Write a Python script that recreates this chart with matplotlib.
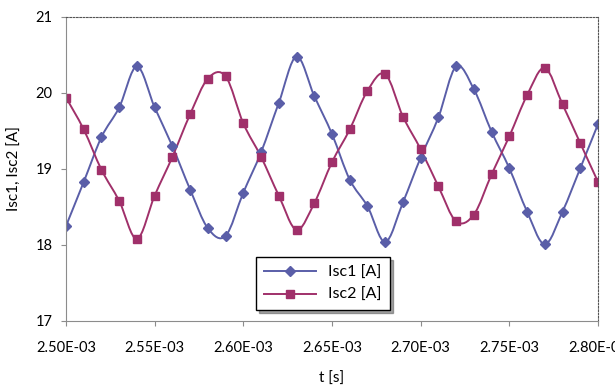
import numpy as np
import matplotlib
matplotlib.use("Agg")
import matplotlib.pyplot as plt
from matplotlib.path import Path
from matplotlib.patches import PathPatch
from matplotlib.lines import Line2D
from matplotlib.ticker import FuncFormatter

# time axis, 1e-5 s steps
t = np.arange(31) * 1e-5 + 2.50e-3

isc1 = [18.25, 18.83, 19.42, 19.81, 20.35, 19.81, 19.30, 18.73, 18.22, 18.12,
        18.69, 19.22, 19.87, 20.48, 19.96, 19.46, 18.86, 18.51, 18.04, 18.56,
        19.15, 19.68, 20.35, 20.05, 19.49, 19.01, 18.44, 18.01, 18.44, 19.01,
        19.59]
isc2 = [19.94, 19.52, 18.99, 18.58, 18.08, 18.65, 19.16, 19.72, 20.19, 20.22,
        19.60, 19.16, 18.65, 18.20, 18.55, 19.09, 19.52, 20.03, 20.25, 19.69,
        19.26, 18.77, 18.31, 18.40, 18.93, 19.43, 19.97, 20.33, 19.85, 19.34,
        18.83]


def smooth_path(x, y):
    # excel-like smoothed line: bezier segments through the points
    p = np.column_stack([x, y])
    n = len(p)
    verts = [p[0]]
    codes = [Path.MOVETO]
    for i in range(n - 1):
        a = p[max(i - 1, 0)]
        b = p[i]
        c = p[i + 1]
        d = p[min(i + 2, n - 1)]
        verts += [b + (c - a) / 6, c - (d - b) / 6, c]
        codes += [Path.CURVE4] * 3
    return Path(verts, codes)


plt.rcParams['font.family'] = ['Lato', 'DejaVu Sans']

fig = plt.figure(figsize=(6.15, 3.89), dpi=100)
W, H = 615, 389
ax = fig.add_axes([66/W, 1-321/H, (598-66)/W, (321-17)/H])

c1 = '#5A5EA8'
c2 = '#A0306A'
for y, c, m, ms in [(isc1, c1, 'D', 5.5), (isc2, c2, 's', 6)]:
    ax.add_patch(PathPatch(smooth_path(t, y), fill=False, edgecolor=c, lw=1.4))
    ax.plot(t, y, ls='none', color=c, marker=m, ms=ms)

ax.set_xlim(2.50e-3, 2.80e-3)
ax.set_ylim(17, 21)
ax.set_xticks(np.arange(7) * 5e-5 + 2.50e-3)
ax.set_yticks([17, 18, 19, 20, 21])
ax.xaxis.set_major_formatter(FuncFormatter(lambda v, p: '%.2E' % v))

for s in ['left', 'bottom']:
    ax.spines[s].set_color('#8c8c8c')
for s in ['top', 'right']:
    ax.spines[s].set_color('#555555')
    ax.spines[s].set_linestyle((0, (1.5, 1.5)))

ax.tick_params(direction='out', length=3.5, color='#8c8c8c', labelsize=10.5)
ax.tick_params(axis='x', pad=11)
ax.tick_params(axis='y', pad=6)
ax.set_xlabel('t [s]', fontsize=11, labelpad=12)
ax.set_ylabel('Isc1, Isc2 [A]', fontsize=11, labelpad=10)

handles = [Line2D([], [], color=c1, lw=1.4, marker='D', ms=5.5),
           Line2D([], [], color=c2, lw=1.4, marker='s', ms=6)]
leg = ax.legend(handles, ['Isc1 [A]', 'Isc2 [A]'], loc='lower left',
                bbox_to_anchor=(0.358, 0.035), fancybox=False,
                shadow=True, edgecolor='black', fontsize=11.5, handlelength=3.2,
                borderpad=0.5, labelspacing=0.55, borderaxespad=0)
leg.get_frame().set_linewidth(1.0)

fig.savefig('out.png', dpi=100)
